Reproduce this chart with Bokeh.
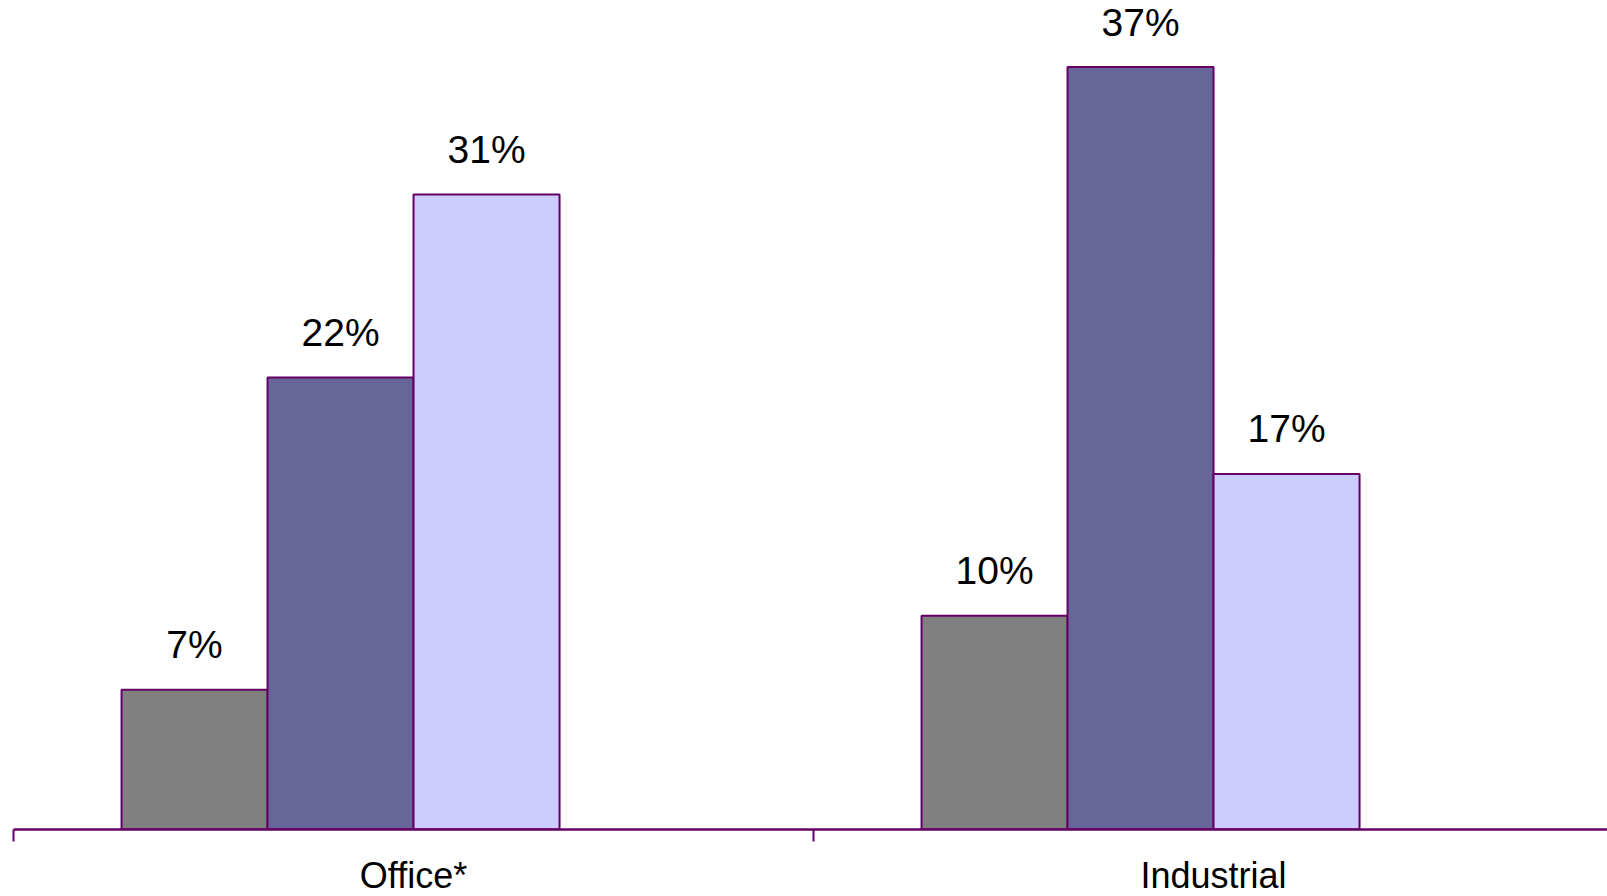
from bokeh.plotting import figure
from bokeh.models import ColumnDataSource, Range1d, FixedTicker
from bokeh.core.properties import value
from bokeh.embed import file_html
from bokeh.resources import INLINE

# ---- data ----
categories = ["Office*", "Industrial"]
series_a = [6.8, 10.4]    # grey bars
series_b = [22.0, 37.1]   # dark purple bars
series_c = [30.9, 17.3]   # light lavender bars
labels_a = ["7%", "10%"]
labels_b = ["22%", "37%"]
labels_c = ["31%", "17%"]

series = [series_a, series_b, series_c]
label_sets = [labels_a, labels_b, labels_c]
colors = ["#808080", "#666699", "#CCCCFF"]
offsets = [0.2263, 0.4088, 0.5913]
bar_w = 0.1825
outline = "#660066"
FONT = "Liberation Sans"

p = figure(frame_width=1594, frame_height=829, output_backend="svg",
           toolbar_location=None, x_range=Range1d(0, 1.9925),
           y_range=Range1d(0, 40.34), min_border_left=13, min_border_right=0,
           min_border_top=0, min_border_bottom=0)
p.outline_line_color = None
p.background_fill_color = "white"
p.border_fill_color = "white"
p.grid.visible = False
p.yaxis.visible = False

for vals, labs, col, off in zip(series, label_sets, colors, offsets):
    xs = [i + off for i in range(len(categories))]
    src = ColumnDataSource(dict(x=xs, top=vals, lab=labs))
    p.vbar(x="x", top="top", bottom=0, width=bar_w, source=src,
           fill_color=col, line_color=outline, line_width=2)
    p.text(x="x", y="top", text="lab", source=src, text_align="center",
           text_baseline="alphabetic", y_offset=-45,
           text_font=value(FONT), text_font_size="39px", text_color="black")

xa = p.xaxis[0]
xa.ticker = FixedTicker(ticks=[i + 0.5 for i in range(len(categories))],
                        minor_ticks=[0, 1, 2])
xa.major_label_overrides = {i + 0.5: c for i, c in enumerate(categories)}
xa.axis_line_color = outline
xa.axis_line_width = 2.4
xa.major_tick_line_color = None
xa.major_tick_out = 12
xa.major_tick_in = 0
xa.minor_tick_line_color = outline
xa.minor_tick_line_width = 2
xa.minor_tick_out = 12
xa.minor_tick_in = 0
xa.major_label_standoff = 13
xa.major_label_text_font = FONT
xa.major_label_text_font_size = "36px"
xa.major_label_text_color = "black"

open("out.html", "w").write(file_html(p, INLINE))
